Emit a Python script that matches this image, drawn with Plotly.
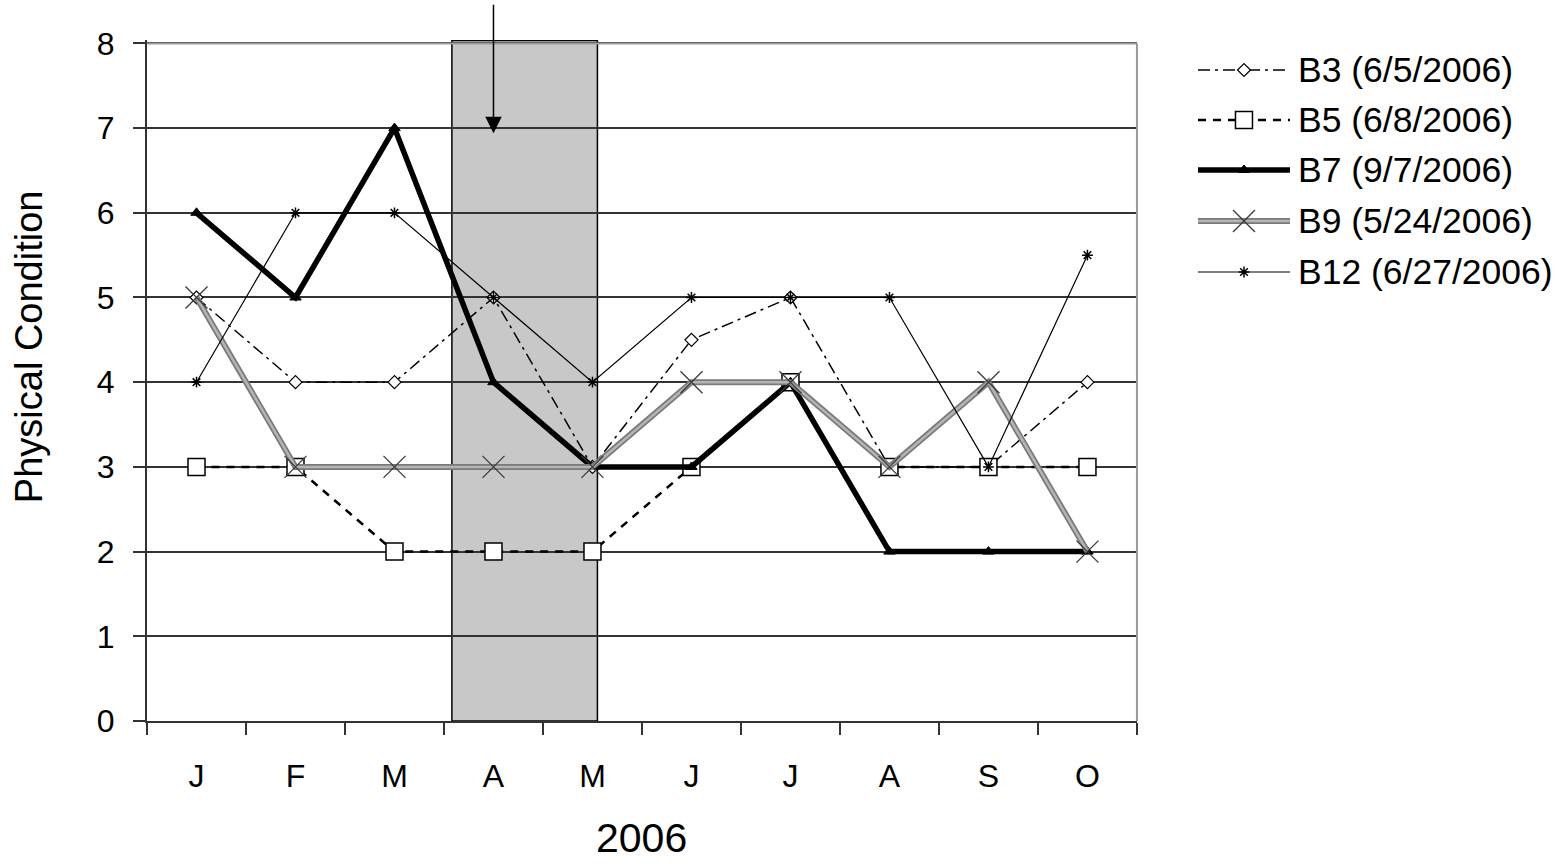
import plotly.graph_objects as go

# ---- data -------------------------------------------------------------
months = ["J", "F", "M", "A", "M", "J", "J", "A", "S", "O"]
b3 = [5, 4, 4, 5, 3, 4.5, 5, 3, 3, 4]
b5 = [3, 3, 2, 2, 2, 3, 4, 3, 3, 3]
b7 = [6, 5, 7, 4, 3, 3, 4, 2, 2, 2]
b9 = [5, 3, 3, 3, 3, 4, 4, 3, 4, 2]
b12 = [4, 6, 6, 5, 4, 5, 5, 5, 3, 5.5]
series_names = ["B3 (6/5/2006)", "B5 (6/8/2006)", "B7 (9/7/2006)",
                "B9 (5/24/2006)", "B12 (6/27/2006)"]
y_ticks = [0, 1, 2, 3, 4, 5, 6, 7, 8]

# shaded period (in month-index units) and the marked month
shade_start, shade_end = 2.58, 4.05
arrow_month, arrow_value = 3, 6.94

FONT = "Arial, Liberation Sans, sans-serif"
x_idx = list(range(len(months)))

# ---- styles -------------------------------------------------------------
styles = [
    dict(lines=[dict(color="black", width=1.5, dash="12px,5px,3px,5px")],
         marker=dict(symbol="diamond", size=10, color="white",
                     line=dict(color="black", width=1.2))),
    dict(lines=[dict(color="black", width=2.5, dash="8px,7px")],
         marker=dict(symbol="square", size=17, color="white",
                     line=dict(color="black", width=1.5))),
    dict(lines=[dict(color="black", width=5.5)],
         marker=dict(symbol="triangle-up", size=10, color="black",
                     line=dict(color="black", width=1))),
    dict(lines=[dict(color="#7a7a7a", width=6), dict(color="#b4b4b4", width=2.5)],
         marker=dict(symbol="x-thin-open", size=22, color="#3a3a3a",
                     line=dict(color="#3a3a3a", width=1.3))),
    dict(lines=[dict(color="black", width=1.2)],
         marker=dict(symbol="asterisk-open", size=9, color="black",
                     line=dict(color="black", width=1.5))),
]
values = [b3, b5, b7, b9, b12]

fig = go.Figure()

for name, vals, st in zip(series_names, values, styles):
    for ln in st["lines"]:
        fig.add_trace(go.Scatter(x=x_idx, y=vals, mode="lines", line=ln,
                                 name=name, showlegend=False, hoverinfo="skip"))
    fig.add_trace(go.Scatter(x=x_idx, y=vals, mode="markers", marker=st["marker"],
                             name=name, showlegend=False))

# ---- legend drawn on its own small axes --------------------------------
legend_rows = [70, 120, 170, 221, 272]
for name, row, st in zip(series_names, legend_rows, styles):
    for ln in st["lines"]:
        fig.add_trace(go.Scatter(x=[0, 1], y=[row, row], mode="lines", line=ln,
                                 xaxis="x2", yaxis="y2", showlegend=False,
                                 hoverinfo="skip"))
    fig.add_trace(go.Scatter(x=[0.5], y=[row], mode="markers", marker=st["marker"],
                             xaxis="x2", yaxis="y2", showlegend=False,
                             hoverinfo="skip"))
    fig.add_annotation(x=0.8132, y=row, xref="paper", yref="y2", text=name,
                       showarrow=False, xanchor="left", yanchor="middle",
                       font=dict(family=FONT, size=35.5, color="black"))

# ---- shaded period, borders, arrow -----------------------------------------
fig.add_shape(type="rect", xref="x", yref="y", x0=shade_start, x1=shade_end,
              y0=0, y1=8.035, fillcolor="#c8c8c8",
              line=dict(color="black", width=1.5), layer="below")
fig.add_shape(type="line", xref="x domain", yref="y", x0=0, x1=1, y0=8, y1=8,
              line=dict(color="#9a9a9a", width=2))
fig.add_shape(type="line", xref="x domain", yref="y", x0=1, x1=1, y0=0, y1=8,
              line=dict(color="#9a9a9a", width=2))

fig.add_annotation(x=arrow_month, y=arrow_value, xref="x", yref="y", text="",
                   showarrow=True, ax=0, ay=-130, arrowhead=2, arrowsize=2.2,
                   arrowwidth=1.5, arrowcolor="black", standoff=0)

# axis titles
fig.add_annotation(x=0.5, y=-0.2085, xref="x domain", yref="paper", text="2006",
                   showarrow=False, xanchor="center", yanchor="bottom",
                   font=dict(family=FONT, size=41, color="black"))
fig.add_annotation(x=-0.083, y=0.55, xref="paper", yref="paper",
                   text="Physical Condition", textangle=-90, showarrow=False,
                   xanchor="center", yanchor="middle",
                   font=dict(family=FONT, size=38, color="black"))

fig.update_layout(
    width=1564, height=864,
    margin=dict(l=147, r=4, t=40, b=143),
    paper_bgcolor="white", plot_bgcolor="white",
    showlegend=False,
    font=dict(family=FONT, color="black"),
    xaxis=dict(domain=[0, 0.7006], range=[-0.5, 9.5],
               tickmode="array", tickvals=x_idx, ticktext=months,
               ticks="outside", ticklen=12, tickcolor="rgba(0,0,0,0)",
               ticklabelstandoff=14,
               tickfont=dict(family=FONT, size=32, color="black"),
               showgrid=False, zeroline=False,
               showline=True, linecolor="#333", linewidth=2,
               minor=dict(tickmode="array",
                          tickvals=[i - 0.5 for i in range(len(months) + 1)],
                          ticks="outside", ticklen=12, tickwidth=2,
                          tickcolor="#333", showgrid=False)),
    yaxis=dict(range=[0, 8.04], tickmode="array", tickvals=y_ticks,
               ticks="outside", ticklen=12, tickwidth=2, tickcolor="#333",
               ticklabelstandoff=12,
               tickfont=dict(family=FONT, size=32, color="black"),
               showgrid=True, gridcolor="#333", gridwidth=1.8,
               zeroline=False, showline=True, linecolor="#333", linewidth=2),
    xaxis2=dict(domain=[0.7438, 0.8089], range=[0, 1], anchor="y2",
                visible=False, fixedrange=True),
    yaxis2=dict(domain=[0, 1], range=[721, 40], anchor="x2",
                visible=False, fixedrange=True),
)

fig.write_html("out.html")
